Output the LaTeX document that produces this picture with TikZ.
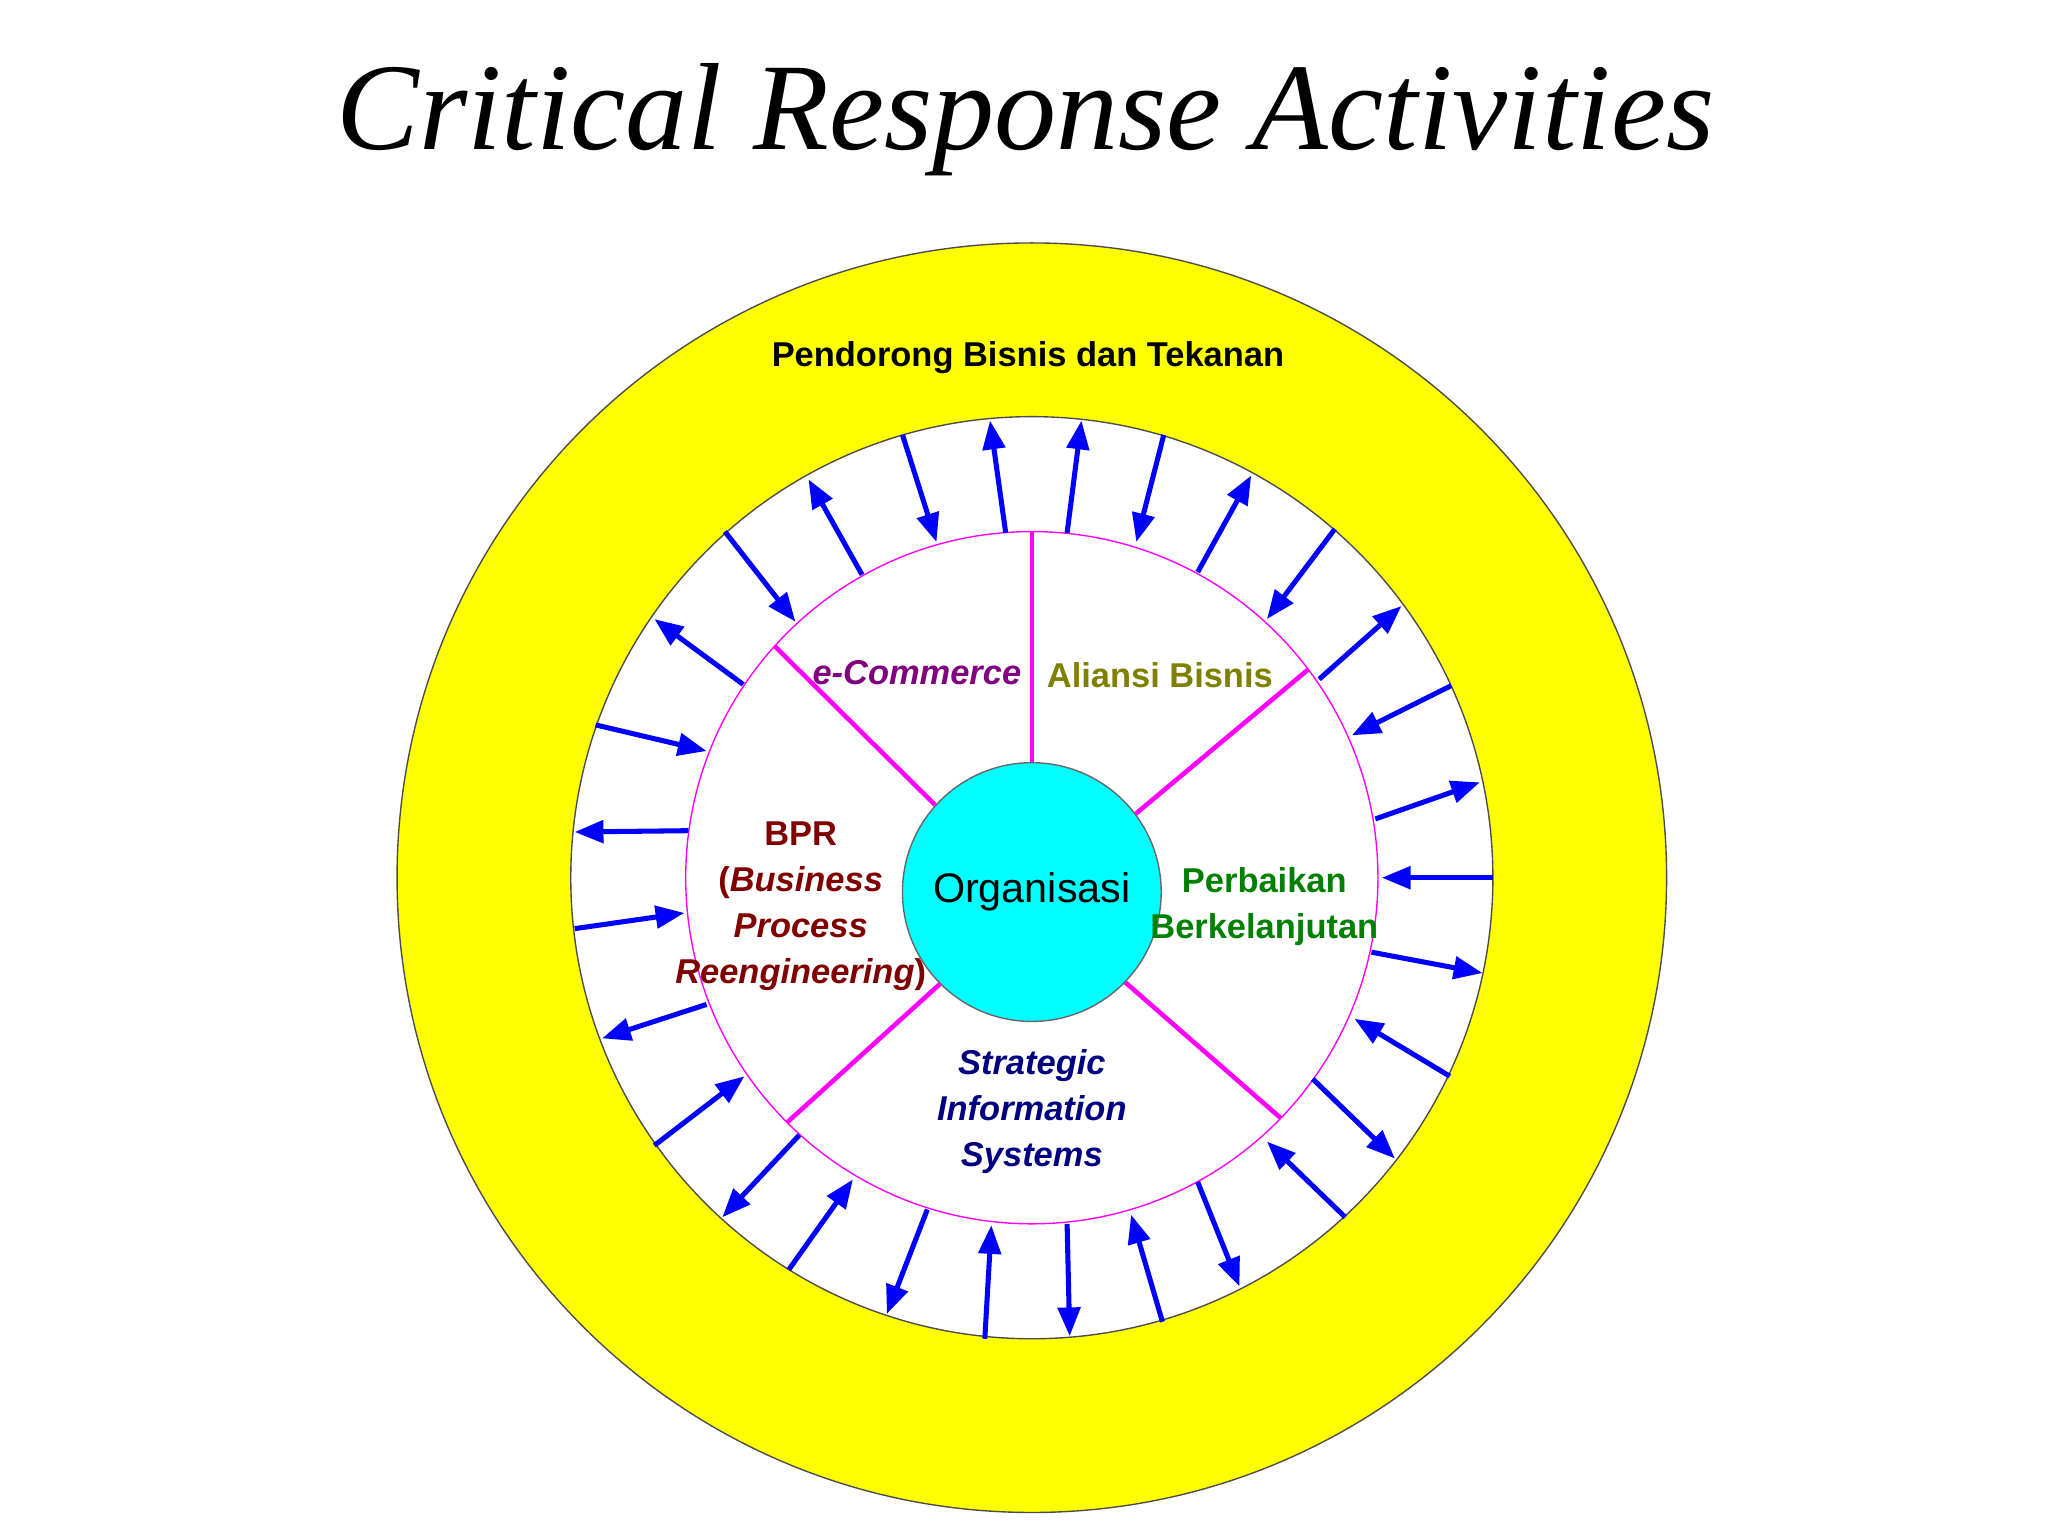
\documentclass[tikz,border=0pt]{standalone}
\usepackage{fontspec}
\setmainfont{Liberation Serif}
\newfontfamily\lsans{Liberation Sans}
\usetikzlibrary{arrows.meta,calc}
\definecolor{yel}{RGB}{255,255,0}
\definecolor{cy}{RGB}{0,255,255}
\definecolor{pk}{RGB}{255,0,255}
\begin{document}
\begin{tikzpicture}[x=0.01cm,y=-0.01cm,
  arr/.style={draw=blue,line width=1.1pt,-{Triangle[length=0.22cm,width=0.17cm]},fill=blue},
  lab/.style={font=\lsans\fontsize{7.5}{10}\selectfont\bfseries,align=center}]
\useasboundingbox (0,0) rectangle (1568,1176);
\fill[white] (0,0) rectangle (1568,1176);
\node[font=\itshape\fontsize{27}{30}\selectfont] (title) at (785,92) {Critical Response Activities};
\filldraw[fill=yel,draw=black!70,line width=0.3pt,even odd rule] (790,672) circle (486) (790,672) circle (353);
\draw[pk,line width=0.3pt] (790,672) circle (265);
\node[circle,fill=cy,draw=black!60,line width=0.3pt,minimum size=1.98cm,inner sep=0pt,
  font=\lsans\fontsize{9}{11}\selectfont] (org) at (790,683) {Organisasi};
\foreach \a in {90,138,37,225,316}
  \draw[pk,line width=1pt] (org.\a) -- ($(790,672)+(\a:2.65cm)$);
\foreach \sx/\sy/\ex/\ey in {691/333/717/415, 770/408/758/322, 817/408/828/322, 891/333/870/415,
  917/438/958/364, 1022/405/970/474, 1010/520/1073/464, 1111/525/1035/563, 1053/627/1133/599,
  1143/672/1058/672, 1050/729/1135/745, 1110/824/1037/780, 1005/826/1068/887, 1030/932/970/874,
  917/905/949/985, 890/1012/866/930, 817/937/819/1023, 754/1025/759/938, 710/926/679/1006,
  604/972/653/903, 612/869/553/932, 501/877/570/824, 541/769/461/795, 440/711/524/699,
  527/636/440/637, 456/555/541/575, 569/524/501/474, 555/407/609/476, 660/440/619/367}
  \draw[arr] (\sx,\sy) -- (\ex,\ey);
\node[lab] (top) at (787,274) {Pendorong Bisnis dan Tekanan};
\node[lab,text={rgb,255:red,128;green,0;blue,128},font=\lsans\fontsize{7.5}{10}\selectfont\bfseries\itshape] (ec) at (702,515) {e-Commerce};
\node[lab,text={rgb,255:red,128;green,128;blue,0}] (al) at (888,517) {Aliansi Bisnis};
\node[lab,text={rgb,255:red,0;green,128;blue,0}] (pb) at (968,694) {Perbaikan\\Berkelanjutan};
\node[lab,text={rgb,255:red,0;green,0;blue,128},font=\lsans\fontsize{7.5}{10}\selectfont\bfseries\itshape] (sis) at (790,851) {Strategic\\Information\\Systems};
\node[lab,text={rgb,255:red,128;green,0;blue,0}] (bpr) at (613,694) {BPR\\(\textit{Business}\\\textit{Process}\\\textit{Reengineering})};
\end{tikzpicture}
\end{document}
